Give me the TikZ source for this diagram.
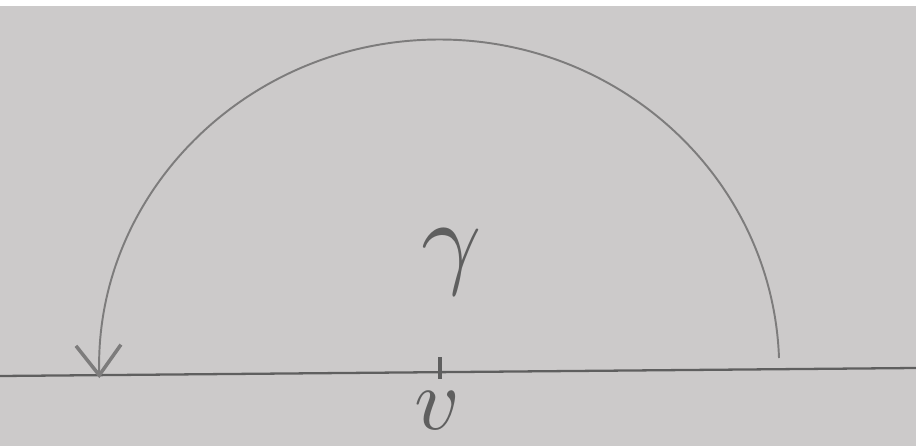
\documentclass[tikz,border=0pt]{standalone}
\usepackage{tikz}
\usetikzlibrary{arrows.meta}

\definecolor{paper}{RGB}{204,202,202}
\definecolor{pencil}{RGB}{95,95,95}
\definecolor{pencillight}{RGB}{125,124,124}

\begin{document}
\begin{tikzpicture}[
  x=0.02cm, y=-0.02cm,
  axis/.style={draw=pencil, line width=1.3pt},
  curve/.style={draw=pencillight, line width=1.1pt,
                -{Straight Barb[length=6mm, width=9mm, line width=2pt]}},
  tickmark/.style={fill=pencil, minimum width=2.4pt, minimum height=4.5mm, inner sep=0pt},
  lbl/.style={text=pencil, inner sep=0pt},
]
% paper
\fill[paper] (0,0) rectangle (916,446);
\fill[white] (0,0) rectangle (916,6);
\useasboundingbox (0,0) rectangle (916,446);

% real line
\coordinate (lineW) at (0,376);
\coordinate (lineE) at (916,368);
\draw[axis] (lineW) -- (lineE);

% semicircle, traversed from right to left (y axis points down)
\coordinate (arcstart) at (779,358);
\draw[curve] (arcstart) arc[start angle=-2, end angle=-181.5, x radius=340, y radius=330];

% point on the line and labels
\node[tickmark] (pt) at (440,368) {};
\node[lbl, scale=6] (gam) at (452,262) {$\gamma$};
\node[lbl, scale=5] (vlbl) at (437,411) {$v$};
\end{tikzpicture}
\end{document}
